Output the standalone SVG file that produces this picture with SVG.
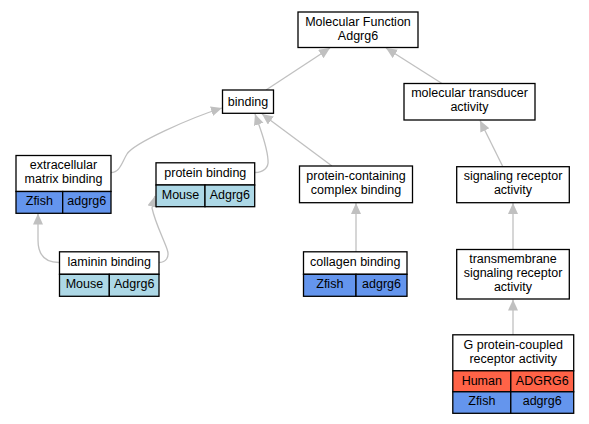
<svg xmlns="http://www.w3.org/2000/svg" width="589" height="424" viewBox="0 0 589 424">
<defs>
<style>
.box{fill:#ffffff;stroke:#000000;stroke-width:1.3}
.zf{fill:#6495ED;stroke:#000000;stroke-width:1.3}
.ms{fill:#ADD8E6;stroke:#000000;stroke-width:1.3}
.hu{fill:#FF6347;stroke:#000000;stroke-width:1.3}
text{font-family:"Liberation Sans",Arial,sans-serif;font-size:12.5px;fill:#000000;text-anchor:middle}
.edge{fill:none;stroke:#c0c0c0;stroke-width:1.3;marker-end:url(#ah)}
</style>
<marker id="ah" markerUnits="userSpaceOnUse" markerWidth="12" markerHeight="11" refX="11" refY="5" orient="auto">
<path d="M0,0 L11,5 L0,10 z" fill="#c0c0c0"/>
</marker>
</defs>
<rect width="589" height="424" fill="#ffffff"/>
<g id="edges">
<path class="edge" d="M266,90 L330,48"/>
<path class="edge" d="M442,83.5 L386,48"/>
<path class="edge" d="M111,172.5 C120,172.5 122,162 127,154 C134,143 190,118 222,108"/>
<path class="edge" d="M255,172.5 C263,172.5 269,168 268,160 C267,145 260,128 255,114"/>
<path class="edge" d="M332,166 L262,114"/>
<path class="edge" d="M503,167 L480,120.5"/>
<path class="edge" d="M356,252 L356,203"/>
<path class="edge" d="M513,249.5 L513,203"/>
<path class="edge" d="M513,335 L513,299.5"/>
<path class="edge" d="M59,262.5 C45,262.5 38,255 38,240 L38,213.5"/>
<path class="edge" d="M159,262.5 C166,262.5 170,257 167,249 C163,238 155,222 152,208 L155,196"/>
</g>
<g id="mf">
<rect class="box" x="298" y="12" width="120" height="35.5"/>
<text x="358" y="26">Molecular Function</text>
<text x="358" y="40">Adgrg6</text>
</g>
<g id="binding">
<rect class="box" x="222.5" y="90" width="51" height="23.3"/>
<text x="248" y="106">binding</text>
</g>
<g id="mta">
<rect class="box" x="404" y="83.5" width="131" height="36.5"/>
<text x="469.5" y="97">molecular transducer</text>
<text x="469.5" y="111">activity</text>
</g>
<g id="emb">
<rect class="box" x="16" y="155.5" width="95" height="36"/>
<text x="63.5" y="169">extracellular</text>
<text x="63.5" y="183">matrix binding</text>
<rect class="zf" x="16" y="191.5" width="46.7" height="21.8"/>
<rect class="zf" x="62.7" y="191.5" width="48.3" height="21.8"/>
<text x="39.3" y="204.5">Zfish</text>
<text x="86.8" y="204.5">adgrg6</text>
</g>
<g id="pb">
<rect class="box" x="156" y="162.8" width="98.7" height="22.2"/>
<text x="205.3" y="177">protein binding</text>
<rect class="ms" x="156" y="185" width="49" height="21.7"/>
<rect class="ms" x="205" y="185" width="49.7" height="21.7"/>
<text x="180.5" y="198.5">Mouse</text>
<text x="229.8" y="198.5">Adgrg6</text>
</g>
<g id="pccb">
<rect class="box" x="299.5" y="166" width="113" height="36.7"/>
<text x="356" y="180">protein-containing</text>
<text x="356" y="194">complex binding</text>
</g>
<g id="sra">
<rect class="box" x="456.7" y="166.7" width="112.6" height="36"/>
<text x="513" y="180">signaling receptor</text>
<text x="513" y="194">activity</text>
</g>
<g id="lb">
<rect class="box" x="59.5" y="251.8" width="99.5" height="22.5"/>
<text x="109.3" y="266">laminin binding</text>
<rect class="ms" x="59.5" y="274.3" width="49.8" height="22"/>
<rect class="ms" x="109.3" y="274.3" width="49.7" height="22"/>
<text x="84.4" y="288">Mouse</text>
<text x="134.2" y="288">Adgrg6</text>
</g>
<g id="cb">
<rect class="box" x="303.5" y="251.8" width="103.5" height="22.5"/>
<text x="355.3" y="266">collagen binding</text>
<rect class="zf" x="303.5" y="274.3" width="52.5" height="22"/>
<rect class="zf" x="356" y="274.3" width="51" height="22"/>
<text x="329.8" y="288">Zfish</text>
<text x="381.5" y="288">adgrg6</text>
</g>
<g id="tsra">
<rect class="box" x="456.7" y="249.5" width="112.6" height="49.5"/>
<text x="513" y="262.5">transmembrane</text>
<text x="513" y="276.5">signaling receptor</text>
<text x="513" y="290.5">activity</text>
</g>
<g id="gpcr">
<rect class="box" x="452.8" y="334.8" width="120.9" height="36"/>
<text x="513.2" y="348.5">G protein-coupled</text>
<text x="513.2" y="362.5">receptor activity</text>
<rect class="hu" x="452.8" y="370.8" width="58" height="21"/>
<rect class="hu" x="510.8" y="370.8" width="62.9" height="21"/>
<text x="481.8" y="384.5">Human</text>
<text x="542.2" y="384.5">ADGRG6</text>
<rect class="zf" x="452.8" y="391.8" width="58" height="21.5"/>
<rect class="zf" x="510.8" y="391.8" width="62.9" height="21.5"/>
<text x="481.8" y="405">Zfish</text>
<text x="542.2" y="405">adgrg6</text>
</g>
</svg>
